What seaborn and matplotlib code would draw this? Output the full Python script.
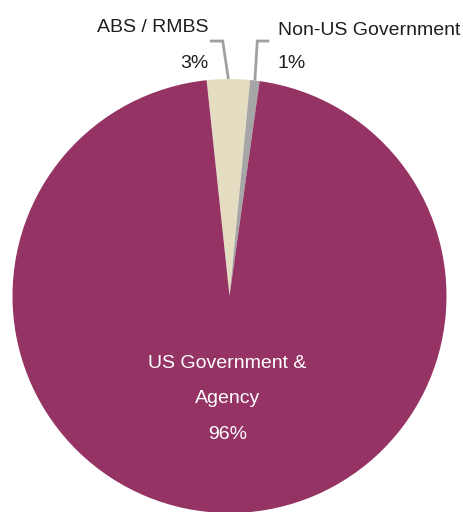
import matplotlib
matplotlib.use("Agg")
import matplotlib.pyplot as plt
import numpy as np
import seaborn as sns

# Portfolio composition by sector (percent)
sectors = ["ABS / RMBS", "Non-US Government", "US Government &\nAgency"]
shares = [3.2, 0.7, 96.1]
sector_colors = ["#E5DDC2", "#A6A6A6", "#953464"]

sns.set_theme(style="white")
plt.rcParams["font.family"] = ["Liberation Sans", "DejaVu Sans"]

W, H, DPI = 464, 512, 100
fig = plt.figure(figsize=(W / DPI, H / DPI), dpi=DPI)
ax = fig.add_axes([0, 0, 1, 1])
ax.set_axis_off()

# pixel scale of a unit radius and pie centre in figure pixels
R_PX = 217.0
CX, CY = 229.5, 296.0

palette = sns.color_palette(sector_colors)
start = 90 + shares[0] / 100 * 360 / 2 + 0.3
wedges, _ = ax.pie(
    shares,
    colors=palette,
    startangle=start,
    counterclock=False,
    radius=1.0,
    wedgeprops=dict(linewidth=0),
    frame=False,
)
ax.set_xlim(-CX / R_PX, (W - CX) / R_PX)
ax.set_ylim(-(H - CY) / R_PX, CY / R_PX)
ax.set_aspect("auto")

fs = 14.0
txt_col = "#1f1f1f"
line_col = "#A0A0A0"


def anchor(w, r=1.0):
    mid = np.deg2rad((w.theta1 + w.theta2) / 2)
    return r * np.cos(mid), r * np.sin(mid)


def pct(v):
    return f"{v:.0f}%"


# ABS / RMBS callout (label to the left)
ax0, ay0 = anchor(wedges[0])
ax.plot([ax0, ax0 - 0.026, ax0 - 0.085], [ay0, 1.175, 1.175],
        color=line_col, lw=2.0, solid_capstyle="butt", solid_joinstyle="miter")
ax.text(-0.099, 1.217, sectors[0], ha="right", va="baseline", fontsize=fs, color=txt_col)
ax.text(-0.099, 1.051, pct(shares[0]), ha="right", va="baseline", fontsize=fs, color=txt_col)

# Non-US Government callout (label to the right)
bx0, by0 = anchor(wedges[1])
ax.plot([bx0, bx0 + 0.011, bx0 + 0.066], [by0, 1.175, 1.175],
        color=line_col, lw=2.0, solid_capstyle="butt", solid_joinstyle="miter")
ax.text(0.2235, 1.203, sectors[1], ha="left", va="baseline", fontsize=fs, color=txt_col)
ax.text(0.2235, 1.051, pct(shares[1]), ha="left", va="baseline", fontsize=fs, color=txt_col)

# Main slice label inside the pie
inner_lines = sectors[2].split("\n") + [pct(shares[2])]
for txt, y in zip(inner_lines, [-0.332, -0.493, -0.659]):
    ax.text(-0.009, y, txt, ha="center", va="baseline", fontsize=fs, color="white")

fig.savefig("out.png", dpi=DPI, facecolor="white")
